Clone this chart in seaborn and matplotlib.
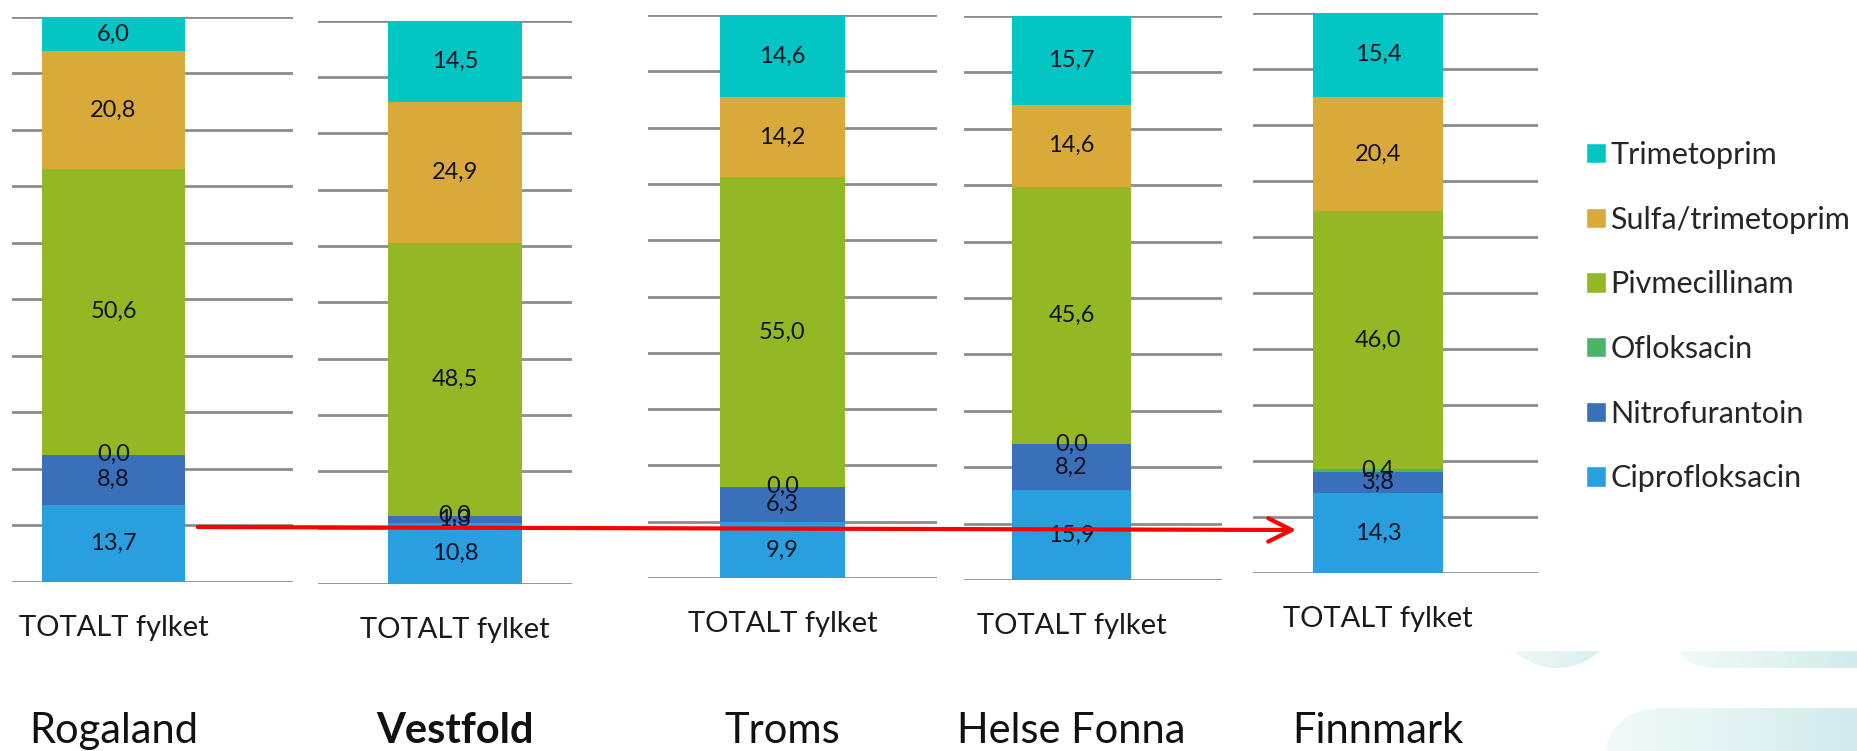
import numpy as np
import pandas as pd
import seaborn as sns
import matplotlib.pyplot as plt
from matplotlib.patches import Patch, Circle, FancyBboxPatch, Rectangle, FancyArrowPatch
from matplotlib.colors import LinearSegmentedColormap

# data (prosent per fylke)
regions = ["Rogaland", "Vestfold", "Troms", "Helse Fonna", "Finnmark"]
category = "TOTALT fylket"
drugs = ["Ciprofloksacin", "Nitrofurantoin", "Ofloksacin", "Pivmecillinam", "Sulfa/trimetoprim", "Trimetoprim"]
ciprofloksacin = [13.7, 10.8, 9.9, 15.9, 14.3]
nitrofurantoin = [8.8, 1.3, 6.3, 8.2, 3.8]
ofloksacin = [0.0, 0.0, 0.0, 0.0, 0.4]
pivmecillinam = [50.6, 48.5, 55.0, 45.6, 46.0]
sulfa_trimetoprim = [20.8, 24.9, 14.2, 14.6, 20.4]
trimetoprim = [6.0, 14.5, 14.6, 15.7, 15.4]
values = [ciprofloksacin, nitrofurantoin, ofloksacin, pivmecillinam, sulfa_trimetoprim, trimetoprim]
colors = ["#299FDF", "#3A70B9", "#4BB469", "#94B823", "#D9A93A", "#03C6C4"]

sns.set_theme(style="white")
plt.rcParams['font.family'] = ['Lato', 'DejaVu Sans']

W, H = 1857, 751
fig = plt.figure(figsize=(W / 100, H / 100), dpi=100)

# bakgrunn (pikselkoordinater)
bg = fig.add_axes([0, 0, 1, 1], zorder=-1)
bg.set_xlim(0, W)
bg.set_ylim(H, 0)
bg.axis('off')
cmap = LinearSegmentedColormap.from_list("teal", ["#F3FBFB", "#D3EBEB"])
grad = np.linspace(0, 1, 256).reshape(1, -1)
for shape, ext in [
    (Circle((1557, 606), 62, transform=bg.transData), (1490, 1630, 560, 680)),
    (FancyBboxPatch((1715, 560), 300, 68, boxstyle="round,pad=40", transform=bg.transData), (1670, 1857, 520, 680)),
    (FancyBboxPatch((1665, 770), 300, 80, boxstyle="round,pad=62", transform=bg.transData), (1600, 1857, 700, 751)),
]:
    im = bg.imshow(grad, cmap=cmap, extent=(ext[0], ext[1], ext[3], ext[2]), aspect='auto')
    im.set_clip_path(shape)
bg.add_patch(Rectangle((1400, 0), 500, 650, color="white", zorder=5))
bg.set_xlim(0, W)
bg.set_ylim(H, 0)

# panel-layout i piksler: venstre, hoyre, topp, bunn, stolpe venstre, stolpe hoyre
panels = [
    (12, 293, 16.6, 582, 42, 185),
    (318, 572, 20.5, 584, 388, 522),
    (648, 937, 15, 578, 720, 845),
    (964, 1222, 16, 580, 1012, 1131),
    (1253, 1538, 12.5, 573, 1313, 1443),
]
bw = 0.5
for i, (l, r, t, b, bl, br) in enumerate(panels):
    ax = fig.add_axes([l / W, 1 - b / H, (r - l) / W, (b - t) / H])
    ax.patch.set_alpha(0)
    bottom = 0.0
    for vals, col in zip(values, colors):
        v = vals[i]
        sns.barplot(x=[category], y=[v], bottom=bottom, color=col, width=bw,
                    saturation=1, linewidth=0, ax=ax)
        ax.bar_label(ax.containers[-1], labels=[f"{v:.1f}".replace('.', ',')],
                     label_type='center', fontsize=17, color="#111122")
        bottom += v
    ppu = (br - bl) / bw
    c = (bl + br) / 2
    ax.set_xlim((l - c) / ppu, (r - c) / ppu)
    ax.set_ylim(0, 100)
    ax.set_yticks(np.arange(0, 101, 10))
    ax.set_yticklabels([])
    ax.yaxis.grid(True, color="#8C8C8C", lw=2)
    ax.set_axisbelow(True)
    for s in ax.spines.values():
        s.set_visible(False)
    ax.set_xticks([(r - c) / ppu - 0.002], minor=True)
    ax.tick_params(axis='x', which='minor', length=7, width=2, color="#8C8C8C", direction='out')
    ax.tick_params(axis='x', which='major', length=0, pad=24, labelsize=21, labelcolor="#1a1a1a")
    ax.tick_params(axis='y', length=0)
    ax.set_xlabel("")
    ax.set_ylabel("")
    bg.text(c, 731, regions[i], ha='center', va='center', fontsize=30,
            fontweight='bold' if regions[i] == "Vestfold" else 'normal', color="#111111")

# rod pil
arrow = FancyArrowPatch((195, 527), (1299, 530), arrowstyle='->, head_length=0.4, head_width=0.2',
                        mutation_scale=42, color='red', lw=3, transform=bg.transData, zorder=20)
fig.add_artist(arrow)

handles = [Patch(facecolor=c) for c in colors[::-1]]
fig.legend(handles, drugs[::-1], loc='upper left', bbox_to_anchor=(1586 / W, 1 - 141 / H),
           frameon=False, fontsize=22, handlelength=0.65, handleheight=0.65, handletextpad=0.15,
           labelspacing=1.2, borderpad=0, borderaxespad=0)

plt.savefig("out.png", dpi=100)
